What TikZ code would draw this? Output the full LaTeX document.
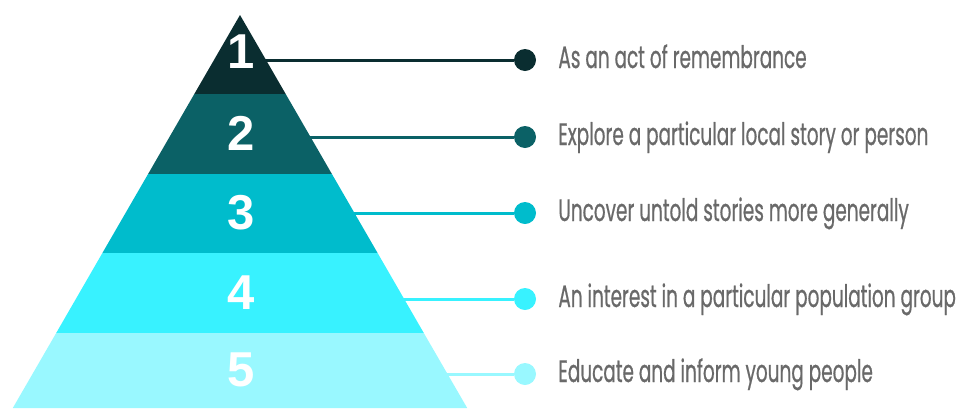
\documentclass[tikz,border=0pt]{standalone}
\usepackage{fontspec}
\setmainfont{Liberation Sans}
\newfontfamily\reasonfont[FakeStretch=0.595, FakeBold=0.6]{Poppins}
\usetikzlibrary{positioning}

\definecolor{levelone}{RGB}{10,45,48}
\definecolor{leveltwo}{RGB}{11,97,102}
\definecolor{levelthree}{RGB}{0,188,204}
\definecolor{levelfour}{RGB}{56,242,255}
\definecolor{levelfive}{RGB}{153,248,255}
\definecolor{reasongray}{RGB}{105,105,105}

\begin{document}
\begin{tikzpicture}[
    x=1pt, y=-1pt,
    node distance=22pt,
    % Pyramid numbers - bold white
    num/.style={
        text=white, inner sep=0pt,
        font=\bfseries\fontsize{49}{50}\selectfont
    },
    % Bullet at the end of each connector
    dot/.style={
        circle, inner sep=0pt, minimum size=22pt
    },
    % Reasons - condensed gray text
    reason/.style={
        anchor=west, inner sep=0pt, text=reasongray,
        text height=16pt, text depth=0pt,
        font=\reasonfont\fontsize{31}{33}\selectfont
    },
    link/.style={line width=3pt},
]
\useasboundingbox (0,0) rectangle (967,408);

% Pyramid layers - top to bottom
\fill[levelone]   (240,15) -- (285.7,94) -- (194.3,94) -- cycle;
\fill[leveltwo]   (194.3,94) -- (285.7,94) -- (331.9,174) -- (148.1,174) -- cycle;
\fill[levelthree] (148.1,174) -- (331.9,174) -- (377.6,253) -- (102.4,253) -- cycle;
\fill[levelfour]  (102.4,253) -- (377.6,253) -- (423.8,333) -- (56.2,333) -- cycle;
\fill[levelfive]  (56.2,333) -- (423.8,333) -- (467.2,408) -- (12.8,408) -- cycle;

% Layer numbers
\node[num] (n1) at (241,52) {1};
\node[num] (n2) at (241,133) {2};
\node[num] (n3) at (241,213) {3};
\node[num] (n4) at (241,293) {4};
\node[num] (n5) at (241,370) {5};

% Connector starts on the right edge of the pyramid
\coordinate (e1) at (264,60);
\coordinate (e2) at (308.5,137);
\coordinate (e3) at (352.4,213);
\coordinate (e4) at (402.2,299);
\coordinate (e5) at (445.5,374);

% Bullets
\node[dot, fill=levelone]   (d1) at (525,60) {};
\node[dot, fill=leveltwo]   (d2) at (525,137) {};
\node[dot, fill=levelthree] (d3) at (525,213) {};
\node[dot, fill=levelfour]  (d4) at (525,299) {};
\node[dot, fill=levelfive]  (d5) at (525,374) {};

% Reasons
\node[reason, right=of d1] (r1) {As an act of remembrance};
\node[reason, right=of d2] (r2) {Explore a particular local story or person};
\node[reason, right=of d3] (r3) {Uncover untold stories more generally};
\node[reason, right=of d4] (r4) {An interest in a particular population group};
\node[reason, right=of d5] (r5) {Educate and inform young people};

% Connectors
\draw[link, levelone]   (e1) -- (d1);
\draw[link, leveltwo]   (e2) -- (d2);
\draw[link, levelthree] (e3) -- (d3);
\draw[link, levelfour]  (e4) -- (d4);
\draw[link, levelfive]  (e5) -- (d5);

\end{tikzpicture}
\end{document}
